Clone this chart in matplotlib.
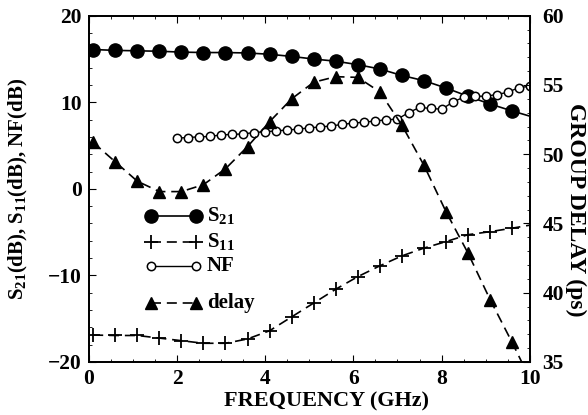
import matplotlib
matplotlib.use("Agg")
import matplotlib.pyplot as plt
from matplotlib.ticker import MultipleLocator

plt.rcParams['font.family'] = ['Liberation Serif', 'DejaVu Serif']
plt.rcParams['font.weight'] = 'bold'
plt.rcParams['mathtext.fontset'] = 'custom'
plt.rcParams['mathtext.rm'] = 'Liberation Serif:bold'

# frequency points (GHz) shared by S21, S11 and delay
freq = [0.1, 0.6, 1.1, 1.6, 2.1, 2.6, 3.1, 3.6, 4.1, 4.6, 5.1, 5.6, 6.1,
        6.6, 7.1, 7.6, 8.1, 8.6, 9.1, 9.6, 10.0]
s21 = [16.1, 16.0, 15.95, 15.9, 15.8, 15.75, 15.75, 15.7, 15.55, 15.3, 15.0,
       14.75, 14.35, 13.85, 13.1, 12.5, 11.65, 10.7, 9.8, 9.0, 8.4]
s11 = [-16.9, -16.95, -16.95, -17.25, -17.55, -17.85, -17.85, -17.35, -16.4,
       -14.8, -13.2, -11.6, -10.15, -8.9, -7.75, -6.85, -6.1, -5.3, -4.95,
       -4.55, -4.2]
delay = [50.85, 49.45, 48.05, 47.3, 47.3, 47.8, 48.95, 50.55, 52.35, 54.0,
         55.2, 55.6, 55.55, 54.5, 52.1, 49.2, 45.85, 42.85, 39.5, 36.4, 33.8]

nf_freq = [2.0, 2.25, 2.5, 2.75, 3.0, 3.25, 3.5, 3.75, 4.0, 4.25, 4.5, 4.75,
           5.0, 5.25, 5.5, 5.75, 6.0, 6.25, 6.5, 6.75, 7.0, 7.25, 7.5, 7.75,
           8.0, 8.25, 8.5, 8.75, 9.0, 9.25, 9.5, 9.75, 10.0]
nf = [5.86, 5.93, 6.01, 6.05, 6.24, 6.28, 6.35, 6.5, 6.6, 6.7, 6.8, 6.9,
      7.05, 7.15, 7.27, 7.45, 7.6, 7.7, 7.85, 7.98, 8.06, 8.8, 9.4, 9.3,
      9.2, 10.0, 10.6, 10.7, 10.7, 10.9, 11.15, 11.7, 11.85]

legend_labels = [r'S$_{21}$', r'S$_{11}$', 'NF', 'delay']

fig = plt.figure(figsize=(5.88, 4.15), dpi=100)
ax = fig.add_axes([0.151, 0.128, 0.75, 0.834])
ax2 = ax.twinx()

dash = (0, (6, 3.5))
styles = [
    dict(color='black', lw=1.2, ls='-', marker='o', ms=9.5),
    dict(color='black', lw=1.2, ls=dash, marker='+', ms=10.5, mew=1.3),
    dict(color='black', lw=1.0, ls='-', marker='o', ms=6, mfc='white',
         mew=1.1),
    dict(color='black', lw=1.2, ls=dash, marker='^', ms=8),
]
mk = slice(0, len(freq) - 1)
ax.plot(freq, s21, markevery=mk, **styles[0])
ax.plot(freq, s11, markevery=mk, **styles[1])
ax.plot(nf_freq, nf, **styles[2])
ax2.plot(freq, delay, markevery=mk, **styles[3])

ax.set_xlim(0, 10)
ax.set_ylim(-20, 20)
ax2.set_ylim(35, 60)

ax.xaxis.set_major_locator(MultipleLocator(2))
ax.xaxis.set_minor_locator(MultipleLocator(0.5))
ax.yaxis.set_major_locator(MultipleLocator(10))
ax.yaxis.set_minor_locator(MultipleLocator(2))
ax2.yaxis.set_major_locator(MultipleLocator(5))
ax2.yaxis.set_minor_locator(MultipleLocator(1))

ax.tick_params(which='both', direction='in', top=True, labelsize=15.5)
ax.tick_params(axis='y', pad=5)
ax.tick_params(axis='x', pad=5)
ax.tick_params(which='major', length=5)
ax.tick_params(which='minor', length=2.5)
ax2.tick_params(which='both', direction='in', labelsize=15.5, pad=9)
ax2.tick_params(which='major', length=5)
ax2.tick_params(which='minor', length=2.5)
for a in (ax, ax2):
    for s in a.spines.values():
        s.set_linewidth(1.3)

ax.set_xlabel('FREQUENCY (GHz)', fontsize=16, fontweight='bold',
              va='center')
ax.xaxis.set_label_coords(0.54, -0.115)
ax.set_ylabel(r'S$_{21}$(dB), S$_{11}$(dB), NF(dB)', fontsize=15,
              fontweight='bold')
ax.yaxis.set_label_coords(-0.134, 0.5)
ax2.set_ylabel('GROUP DELAY (ps)', fontsize=17, fontweight='bold',
               rotation=270, va='center')
ax2.yaxis.set_label_coords(1.104, 0.44)

# hand-placed legend: marker at both ends of a short line
rows_y = [0.422, 0.347, 0.277, 0.171]
for st, lab, yy in zip(styles, legend_labels, rows_y):
    ax.plot([0.142, 0.244], [yy, yy], transform=ax.transAxes,
            clip_on=False, **st)
    ax.text(0.268, yy, lab, transform=ax.transAxes, fontsize=15,
            fontweight='bold', va='center', ha='left')

fig.savefig('out.png', dpi=100)
